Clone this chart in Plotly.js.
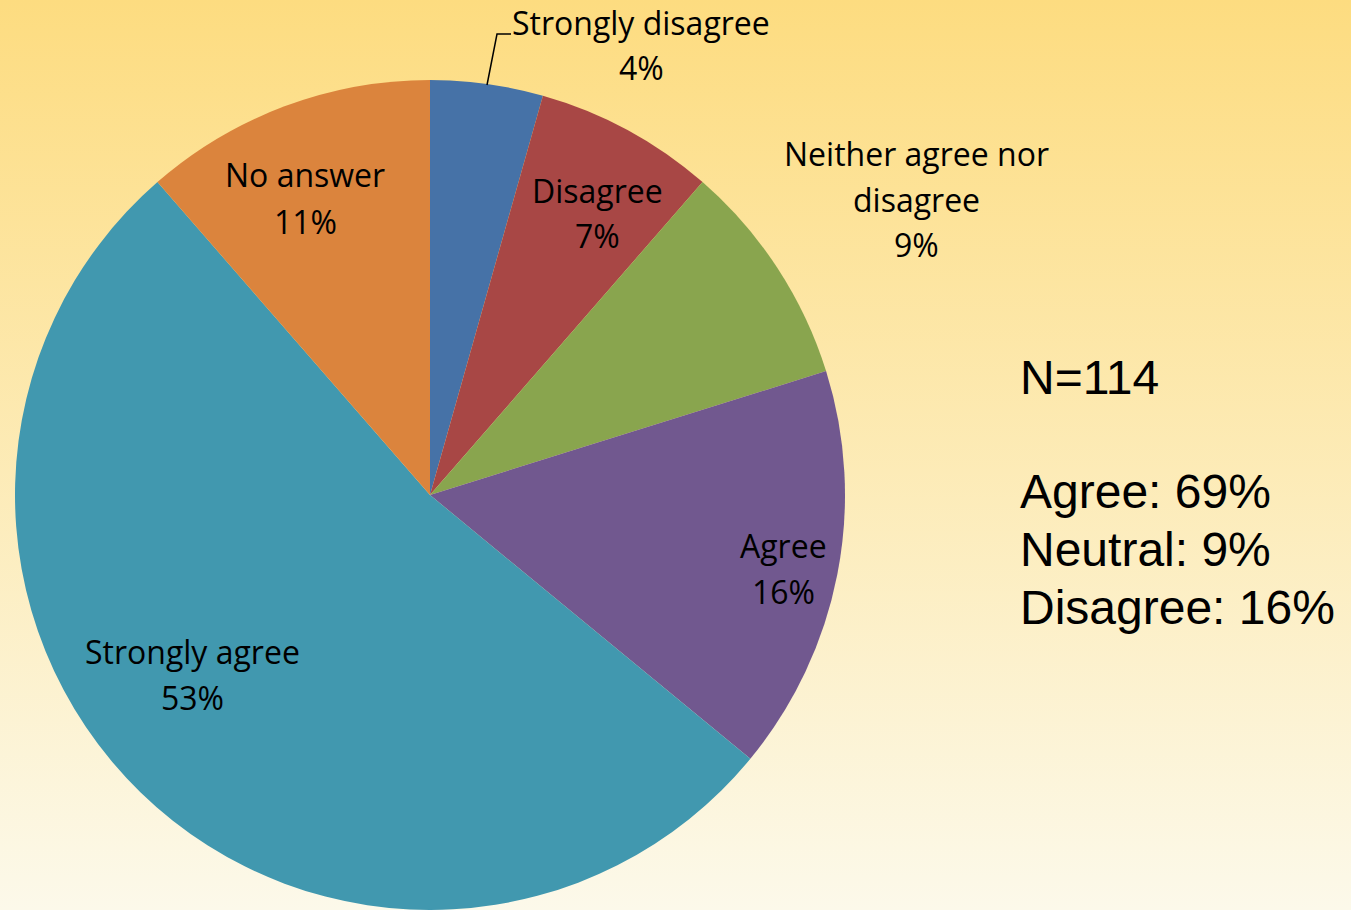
<!DOCTYPE html>
<html>
<head>
<meta charset="utf-8">
<script src="https://cdn.plot.ly/plotly-3.0.1.min.js"></script>
<style>
html, body { margin:0; padding:0; width:1351px; height:910px; overflow:hidden;
  background: linear-gradient(to bottom, #FDDC80 0%, #FCF9EA 100%); }
#chart { width:1351px; height:910px; }
</style>
</head>
<body>
<div id="chart"></div>
<script>
// ---- data ----
const categories = ['Strongly disagree', 'Disagree', 'Neither agree nor disagree', 'Agree', 'Strongly agree', 'No answer'];
const counts = [5, 8, 10, 18, 60, 13];
const colors = ['#4672A7', '#A84745', '#89A54E', '#71588F', '#4198AF', '#DB843D'];
const totalN = 114;
const summaryLabels = ['Agree', 'Neutral', 'Disagree'];
const summaryValues = [69, 9, 16];

// ---- layout helpers ----
const W = 1351, H = 910;
const px = x => x / W;
const py = y => 1 - y / H;

// label line splits (display wrapping) and label centers in pixels
const labelLines = [
  ['Strongly disagree'],
  ['Disagree'],
  ['Neither agree nor', 'disagree'],
  ['Agree'],
  ['Strongly agree'],
  ['No answer']
];
const labelPos = [[641, 22], [597, 190], [916, 153], [784, 545], [192, 651], [305, 175]];
const lineGap = 46;
const labelFont = {family: '"Open Sans", Lato, sans-serif', size: 32, color: '#000000'};

const annotations = [];
categories.forEach((c, i) => {
  const lines = labelLines[i].concat([Math.round(counts[i] / totalN * 100) + '%']);
  lines.forEach((t, k) => {
    annotations.push({
      text: t, showarrow: false, xref: 'paper', yref: 'paper',
      x: px(labelPos[i][0]), y: py(labelPos[i][1] + k * lineGap),
      xanchor: 'center', yanchor: 'middle', font: labelFont
    });
  });
});

const sumFont = {family: '"Liberation Sans", Arial, sans-serif', size: 48, color: '#000000'};
annotations.push({text: 'N=' + totalN, showarrow: false, xref: 'paper', yref: 'paper',
  x: px(1018), y: py(377), xanchor: 'left', yanchor: 'middle', font: sumFont});
summaryLabels.forEach((s, i) => {
  annotations.push({text: s + ': ' + summaryValues[i] + '%', showarrow: false, xref: 'paper', yref: 'paper',
    x: px(1018), y: py(492 + i * 57.5), xanchor: 'left', yanchor: 'middle', font: sumFont});
});

// leader line for the small slice
const shapes = [{
  type: 'path', xref: 'paper', yref: 'paper',
  path: `M ${px(487)} ${py(85)} L ${px(497)} ${py(34)} L ${px(511)} ${py(34)}`,
  line: {color: '#000000', width: 1.5}
}];

const trace = {
  type: 'pie',
  labels: categories,
  values: counts,
  sort: false,
  direction: 'clockwise',
  rotation: 0,
  marker: {colors: colors, line: {width: 0}},
  textinfo: 'none',
  hoverinfo: 'none',
  showlegend: false,
  domain: {x: [15 / W, 845 / W], y: [0, 830 / H]}
};

Plotly.newPlot('chart', [trace], {
  width: W, height: H,
  margin: {l: 0, r: 0, t: 0, b: 0},
  paper_bgcolor: 'rgba(0,0,0,0)',
  plot_bgcolor: 'rgba(0,0,0,0)',
  showlegend: false,
  annotations: annotations,
  shapes: shapes
}, {displayModeBar: false, staticPlot: true});
</script>
</body>
</html>
